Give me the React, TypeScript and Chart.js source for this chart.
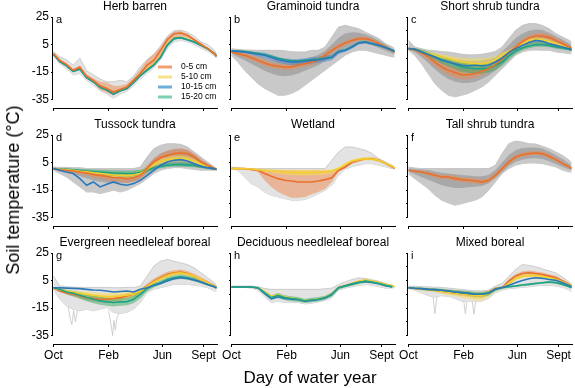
import React, { useEffect, useRef } from 'react';
import { Chart, registerables } from 'chart.js';

Chart.register(...registerables);

const FONT = "'Liberation Sans', Arial, Helvetica, sans-serif";

// ---------- shared axes ----------
const DAYS = [1, 15, 30, 45, 60, 75, 90, 105, 120, 135, 150, 165, 180, 195, 210, 225, 240, 255, 270, 285, 300, 315, 330, 345, 360, 365];
const TICK_DAYS = [1, 124, 244, 336];
const TICK_LABELS = ['Oct', 'Feb', 'Jun', 'Sept'];
const Y_TICKS = [25, 15, 5, -5, -15, -25, -35];
const DEPTHS = ['0-5 cm', '5-10 cm', '10-15 cm', '15-20 cm'];

// ---------- a: Herb barren ----------
const A_OR = [-1.6, -6.5, -9.4, -13.7, -11.5, -18, -21, -25, -27, -29.5, -27.7, -25.8, -21, -16, -10, -6.5, 0.8, 8.5, 12.9, 13.4, 11.7, 8.5, 5.2, 2, -1.6, -3.5];
const A_OR_LO = [-2.5, -7.5, -10.5, -15, -13, -19.5, -23, -28, -30, -32, -29.5, -27.5, -23, -18.5, -13, -9.5, -3.5, 4.5, 10, 11, 10, 7.5, 4.5, 1.2, -2.5, -4.2];
const A_OR_HI = [-1, -5.5, -8.5, -12.5, -10, -16.5, -19.5, -22, -22.5, -25, -25, -23.5, -19, -13, -6, -2, 3, 10.5, 14.5, 14.8, 12.8, 9.3, 6, 2.8, -0.8, -2.8];
const A_YE = [-1.8, -7, -10, -14.2, -12.5, -18.8, -21.8, -25.8, -27.8, -30.5, -28.5, -26.5, -22, -17, -12.5, -9, -3.5, 5.5, 9.8, 10.5, 9, 7, 4.6, 2, -1.6, -3.5];
const A_BL = [-2, -7.3, -10.3, -14.4, -12.8, -19, -22, -26, -28, -31, -28.6, -27, -22.5, -17.5, -13.5, -9.8, -4.3, 4.6, 9.3, 10, 8.5, 6.8, 4.4, 2, -1.6, -3.5];
const A_GR = [-2, -7.5, -10.5, -14.5, -13, -19, -22, -26, -28, -31, -28.5, -27, -22.5, -17.5, -13.7, -10, -4.5, 4.4, 9.3, 10, 8.5, 6.8, 4.4, 2, -1.6, -3.5];
const A_GRAY_HI = [0, -4, -6, -10, -5, -14, -17, -20, -22, -22, -21, -22, -18, -11, -6, -2, 4, 11, 15, 15.5, 14, 11, 7, 5, 1, -2];
const A_GRAY_LO = [-3, -9, -12.5, -17, -16, -21, -24.5, -28.5, -31, -34, -31, -29, -25, -20, -16, -12, -6, 2, 7, 8, 7, 5, 2.5, 0, -3, -5];

// ---------- b: Graminoid tundra ----------
const B_OR = [-0.4, -1.6, -2.8, -4.5, -6.5, -8.4, -10, -10.8, -11.3, -11.3, -10, -8.9, -7.7, -6, -2.8, 0.8, 3.7, 6.1, 8, 9.3, 9.3, 8, 5.6, 3.2, 0.3, -0.4];
const B_OR_LO = [-1, -2.8, -4.5, -6.5, -8.5, -10.5, -12, -13, -13.5, -13.5, -12.2, -11, -9.8, -8, -5, -1.2, 2, 4.5, 6.5, 8, 8, 6.8, 4.5, 2.2, -0.5, -1];
const B_OR_HI = [0.2, -0.6, -1.4, -2.8, -4.5, -6.3, -8, -8.8, -9.2, -9.3, -8, -7, -5.8, -4, -0.8, 2.6, 5.3, 7.6, 9.5, 10.6, 10.6, 9.2, 6.7, 4.2, 1.1, 0.2];
const B_BL = [0.3, 0, -0.4, -1.1, -2, -2.8, -4.5, -6, -7, -7.7, -7.7, -7.2, -6.5, -6, -5.3, -4.5, -0.4, 0.8, 3.2, 6.1, 6.8, 5.6, 4.4, 2.7, 0.8, 0];
const B_BL_LO = [-0.2, -0.6, -1.2, -2.2, -3.5, -4.8, -6.5, -8, -9.2, -10, -10, -9.5, -8.8, -8.2, -7.5, -6.5, -2, -0.5, 2, 5, 5.7, 4.6, 3.5, 1.9, 0.2, -0.5];
const B_BL_HI = [0.8, 0.6, 0.4, 0, -0.6, -1, -2.5, -4, -5, -5.5, -5.5, -5, -4.3, -3.8, -3, -2.5, 1, 2.2, 4.5, 7.2, 7.8, 6.6, 5.3, 3.5, 1.4, 0.6];
const B_GR = [0.4, 0.2, 0, -0.6, -1.3, -2.2, -3.6, -5, -6, -6.8, -6.9, -6.5, -6, -5.5, -4.8, -4, 0, 1.2, 3.5, 6.3, 6.9, 5.7, 4.5, 2.8, 0.9, 0.2];
const B_GRAY_HI = [2, 1.5, 1, 1, 0.8, 0.8, 0.8, 0.8, 0.5, -0.2, -0.4, -0.4, 0.8, 0.8, 3.2, 10.5, 17.7, 19, 17.7, 16.5, 14, 11.7, 9.3, 5.6, 3.2, 2];
const B_GRAY_LO = [-2.8, -7.7, -13.7, -18.6, -23.4, -27, -29.4, -31.9, -31.9, -30.6, -28.2, -24.6, -21, -17.3, -13.7, -10, -6.5, -2.8, -0.4, 0.8, 0.8, -0.4, -1.6, -2.8, -4, -4];
const B_GRAYIN_HI = [1, 0, -0.5, -1.5, -3, -4.5, -6, -7, -7.5, -7.5, -6.5, -5.5, -4, -2.5, 0.5, 5, 10, 13, 14, 13.5, 12.5, 10.5, 8, 5, 2, 1];
const B_GRAYIN_LO = [-1.5, -4, -6.5, -9, -11.5, -14, -16, -17.5, -18, -17.5, -16, -14, -12, -10, -7, -3, 0, 2.5, 4, 5.5, 5.5, 4.5, 2.5, 0.5, -1.5, -2];

// ---------- c: Short shrub tundra ----------
const C_OR = [2, 1.3, -0.9, -4, -7.7, -11.3, -13.7, -15.4, -16.9, -16.9, -16, -14.4, -12.5, -9.6, -5.2, -0.9, 3.2, 6.9, 9.8, 11.2, 11.2, 10.2, 8, 5.6, 3.2, 2];
const C_OR_LO = [1.3, 0, -2.8, -6.5, -10.6, -14.4, -17.3, -19.3, -20.2, -20.2, -19.3, -17.3, -14.9, -11.3, -7.2, -2.3, 1.5, 4.9, 7.8, 9.3, 9.3, 8.3, 6.4, 3.9, 2, 1.3];
const C_OR_HI = [2.7, 2.5, 0.9, -1.6, -4.7, -7.7, -9.6, -11.3, -12.5, -13, -12.5, -11.3, -9.6, -7.2, -3.3, 0.8, 4.9, 8.8, 11.7, 13.4, 13.4, 12.2, 9.8, 7.4, 4.4, 3];
const C_YE = [2, 1.2, 0, -1.4, -2.8, -4, -5.2, -6.5, -7.7, -8.3, -8.9, -8.9, -8.2, -6.5, -2.8, -0.4, 2.5, 5.6, 8, 8.8, 8.5, 7.4, 5.6, 3.9, 2.5, 2];
const C_YE_LO = [1.5, 0.5, -1, -2.8, -4.5, -6, -7.5, -9, -10.5, -11.5, -12, -12, -11.5, -9.5, -5.5, -2, 1, 4, 6.5, 7.5, 7.2, 6.2, 4.6, 3, 1.8, 1.3];
const C_YE_HI = [2.5, 2, 1, 0, -1.2, -2, -3, -4, -4.8, -5, -5.2, -5, -4.5, -3.5, -0.5, 1.2, 4, 7.2, 9.5, 10.2, 9.8, 8.6, 6.6, 4.8, 3.2, 2.6];
const C_BL = [2, 1.5, -0.4, -2.3, -4, -6.5, -7.7, -8.9, -10, -10.6, -10, -10.6, -10, -7.7, -4.7, -0.9, 2, 4.4, 6.4, 8, 7.4, 5.6, 4.4, 3.2, 2, 1.3];
const C_GR = [2, 1.5, 0, -2, -4, -6, -7.7, -9.5, -11.3, -12, -12.5, -12.5, -12, -10, -7.7, -3.3, 0.1, 2.5, 3.9, 4.9, 4.9, 4.4, 3.2, 2.5, 1.5, 0.8];
const C_GR_LO = [1.5, 0.5, -1.5, -4, -6.5, -9, -11, -13, -15, -15.5, -16, -16, -15.5, -13.5, -10.5, -6, -2, 0.8, 2.3, 3.3, 3.3, 3, 2, 1.4, 0.6, 0];
const C_GR_HI = [2.5, 2.5, 1.5, 0, -2, -3.5, -4.8, -6.5, -7.8, -8.5, -9, -9, -8.5, -6.5, -4.5, -0.8, 2.3, 4.3, 5.8, 6.8, 6.8, 6, 4.6, 3.6, 2.4, 1.6];
const C_GRAY_HI = [8, 3.2, 2, 0.9, 0.5, 0, -0.5, -1.2, -2, -2.5, -2.5, -2, -1.2, 0, 3.2, 9.3, 15.3, 18.9, 20.2, 20.2, 18.9, 16.5, 12.9, 10.5, 8, 6.9];
const C_GRAY_LO = [0.8, -2.8, -8.9, -16.2, -23.4, -28.2, -31.9, -33, -31.9, -30.5, -28.2, -25.8, -22.2, -17.3, -12.5, -7.7, -2.8, -0.4, 0.8, 1, 0.8, 0.8, -0.4, -1, -1.6, -1.6];
const C_GRAYIN_HI = [3, 2, 0.5, -1, -2.5, -4, -5, -6, -6.5, -7, -7, -6.5, -5.5, -4, 0, 4.5, 9.5, 13, 15, 16, 15.5, 13.5, 11, 8.5, 5.5, 4];
const C_GRAYIN_LO = [1.3, -0.5, -4, -8.5, -13, -17, -20, -22, -23, -23, -22, -20, -17.5, -14, -9.5, -4.5, 0, 3, 5, 6, 6, 5, 3.5, 2, 1, 0.5];

// ---------- d: Tussock tundra ----------
const D_OR = [0.6, -0.2, -0.6, -1.1, -1.9, -2.6, -3.6, -4.3, -5, -6, -6, -6.7, -6, -4.3, 0.6, 5.4, 8.5, 10.2, 11.5, 11.9, 11.5, 9, 5.4, 3, 0.6, 0];
const D_OR_LO = [0, -1, -1.5, -2.5, -3.5, -4.5, -5.8, -6.8, -7.8, -8.8, -9, -9.5, -8.8, -7, -2, 2.5, 5.5, 7, 8.5, 9, 8.5, 6.5, 3.5, 1.5, -0.2, -0.5];
const D_OR_HI = [1, 0.5, 0.2, 0, -0.5, -1, -1.5, -2, -2.5, -3, -3, -3.5, -3, -1.5, 3, 8, 11.5, 13.5, 15, 15.3, 14.5, 11.5, 7.5, 4.5, 1.5, 0.8];
const D_YE = [0.6, 0, -0.3, -0.7, -1.3, -1.8, -2.5, -3, -3.5, -4, -4.2, -4.5, -4, -3, 0, 3.5, 5.8, 7, 7.8, 8, 7.5, 6, 4, 2.2, 0.6, 0];
const D_YE_LO = [0.2, -0.6, -1, -1.6, -2.4, -3, -3.8, -4.5, -5.2, -6, -6.2, -6.5, -6, -5, -1.5, 1.8, 3.8, 4.8, 5.6, 6, 5.6, 4.6, 3, 1.4, 0, -0.4];
const D_YE_HI = [1, 0.5, 0.3, 0.1, -0.3, -0.6, -1.2, -1.5, -1.8, -2, -2.2, -2.5, -2, -1, 1.5, 5, 7.8, 9, 10, 10.2, 9.6, 7.6, 5.2, 3, 1.2, 0.6];
const D_GR = [0.6, 0.2, 0, -0.3, -0.7, -1.1, -1.5, -1.9, -2.3, -2.6, -2.8, -3, -2.8, -2.2, -0.5, 1, 2.2, 3, 3.4, 3.5, 3.3, 2.8, 2, 1.2, 0.4, 0];
const D_GR_LO = [0.2, -0.4, -0.8, -1.3, -2, -2.6, -3.2, -3.8, -4.3, -4.8, -5, -5.3, -5, -4.2, -2, -0.3, 0.8, 1.5, 2, 2, 1.8, 1.5, 1, 0.5, -0.2, -0.5];
const D_GR_HI = [1, 0.8, 0.6, 0.4, 0.3, 0.2, 0, -0.2, -0.4, -0.6, -0.7, -0.8, -0.6, -0.2, 1, 2.5, 3.8, 4.6, 5, 5.2, 5, 4.2, 3.2, 2, 1, 0.6];
const D_BL = [0.6, -0.6, -1.9, -3, -6.7, -11.5, -9.1, -12.7, -10.8, -9.1, -10.8, -11.5, -10.3, -7.9, -4.3, -0.6, 3, 5.4, 6.6, 7.1, 6.1, 4.2, 2.3, 1.3, 0.6, 0];
const D_GRAY_HI = [1.8, 1.5, 1.5, 1.3, 1.3, 0.6, 0.6, 0.6, 0.6, 0.6, 0.6, 0.6, 0.6, 1.8, 9, 15.1, 17.5, 18.7, 18.7, 18.2, 16.3, 12.7, 9, 5.4, 1.8, 0.6];
const D_GRAY_LO = [-0.6, -3, -5.5, -9.1, -12.7, -16.4, -16.4, -17.6, -16.4, -15.2, -16.4, -15.2, -12.7, -10.3, -6.7, -3, -0.6, 0.6, 1.3, 1.3, 0.6, -0.1, -0.6, -0.6, -0.6, -0.6];
const D_GRAYIN_HI = [1, 0.5, 0, -0.5, -1, -1.5, -2, -2.5, -3, -3.5, -3.5, -4, -3.5, -2, 2.5, 8, 11.5, 13.5, 14.5, 14.8, 14, 11, 7, 4, 1.2, 0.5];
const D_GRAYIN_LO = [0, -1.5, -2.5, -3.5, -5, -6.5, -8, -9, -9.5, -10, -10, -10, -9, -7, -3, 0.5, 2, 3, 3.5, 3.5, 3, 2, 1, 0, -0.5, -0.5];

// ---------- e: Wetland ----------
const E_OR = [0.6, 0.6, 0.6, 0, -0.6, -3, -5, -6.7, -7.9, -8.4, -9.1, -9.1, -9.1, -8.4, -7.4, -6, -0.6, 1.8, 5.4, 6.6, 7.8, 7.8, 6.6, 4.2, 1.8, 0.6];
const E_OR_LO = [0.3, 0.2, 0, -0.6, -1.9, -7.9, -12.7, -16.4, -18.8, -20.5, -20.5, -20, -18, -16.4, -14, -9.1, -1.9, 0.8, 4, 5.5, 6.8, 6.8, 5.6, 3.4, 1.2, 0.2];
const E_OR_HI = [0.8, 0.8, 0.8, 0.5, 0, -0.3, -0.3, -0.5, -0.5, -0.6, -0.6, -0.6, -0.6, -0.6, -0.6, -0.6, 0.6, 2.8, 6.5, 7.8, 8.8, 8.8, 7.6, 5, 2.4, 1];
const E_YE = [0.6, 0.6, 0.6, 0.3, -0.2, -0.6, -1.1, -1.5, -1.9, -2.1, -2.3, -2.3, -2.3, -2.1, -1.9, -1.1, 0.6, 3.7, 6.1, 7.1, 7.8, 7.6, 6.6, 4.2, 2.3, 1.3];
const E_YE_LO = [0.3, 0.3, 0.2, -0.2, -0.8, -1.6, -2.5, -3.2, -3.8, -4.2, -4.5, -4.5, -4.5, -4.2, -3.8, -3, -0.5, 2.5, 5, 6, 6.6, 6.4, 5.5, 3.3, 1.5, 0.6];
const E_YE_HI = [0.8, 0.8, 0.8, 0.6, 0.4, 0.2, 0, 0, -0.2, -0.2, -0.3, -0.3, -0.3, -0.2, -0.2, 0, 1.8, 5, 7.2, 8.4, 9, 8.8, 7.6, 5.2, 3, 2];
const E_GRAY_HI = [1.8, 1.3, 0.6, 0.6, 0.6, 0.6, 0.6, 0.6, 0.6, 0.6, 0.6, 0.6, 0.6, 0.6, 0.6, 6.6, 12.7, 16.3, 16.3, 15.1, 13.9, 11.5, 7.8, 5.4, 3, 1.8];
const E_GRAY_LO = [0.6, -0.6, -5.5, -10.3, -12.7, -16.4, -18.8, -20, -21.2, -22.4, -22.4, -21.9, -20, -17.6, -15.2, -11.5, -4.3, 0.1, 2, 3, 4.2, 4.2, 3, 1.8, 0.6, 0.6];

// ---------- f: Tall shrub tundra ----------
const F_OR = [-0.6, -1.3, -1.9, -3, -4.3, -5.5, -5.5, -6.7, -7.4, -7.9, -8.4, -9.1, -7.9, -4.3, 0.6, 5.4, 9, 10.7, 11.5, 11.9, 11.5, 9.5, 7.1, 4.2, 1.8, 0.6];
const F_OR_LO = [-1.2, -2.2, -3, -4.3, -5.8, -7, -7.2, -8.4, -9.2, -9.8, -10.3, -10.8, -9.6, -6, -1, 3.8, 7.5, 9.2, 10, 10.4, 10, 8, 5.7, 3, 0.8, -0.2];
const F_OR_HI = [0, -0.5, -1, -1.8, -3, -4, -4, -5, -5.6, -6, -6.5, -7.2, -6.2, -2.6, 2.2, 7, 10.5, 12.2, 13, 13.4, 13, 11, 8.5, 5.4, 2.8, 1.4];
const F_GRAY_HI = [1.8, 1.1, 0.6, 0.6, 0.6, 0.6, 0.6, 0.6, 0.6, 0.6, 0.6, 0.6, 0.6, 3, 11.5, 18.7, 20.6, 19.9, 18.7, 18.5, 16.8, 15.1, 12.7, 10.2, 6.6, 4.2];
const F_GRAY_LO = [-3, -6.7, -10.3, -14, -18.8, -22.4, -24.4, -26, -25, -23.6, -22.4, -20, -15.2, -9.1, -3, 0.6, 3, 4.2, 4.6, 4.6, 4.2, 3, 1.8, -0.6, -1.9, -1.9];
const F_GRAYIN_HI = [0.8, 0.3, 0, -0.5, -1.5, -2.5, -3, -3.5, -4, -4.5, -5, -5, -4, -0.5, 5, 10.5, 14, 15.5, 16, 16, 15.2, 13, 10.5, 7.5, 4, 2.5];
const F_GRAYIN_LO = [-1.5, -3.5, -5.5, -7.5, -9.5, -11.5, -12.5, -13.5, -13.5, -13, -12.5, -12, -10, -6.5, -2, 2.5, 5.5, 7, 8, 8.2, 7.6, 6, 4, 1.8, 0, -0.6];

// ---------- g: Evergreen needleleaf boreal ----------
const G_OR = [-0.2, -2.6, -3.8, -5, -6.2, -7.4, -8.1, -8.6, -8.6, -8.1, -7.4, -6.2, -5, -2.6, 1, 4.6, 7, 9.4, 10.6, 11.1, 10.1, 8.2, 5.8, 3.4, 1, -0.2];
const G_OR_LO = [-1, -3.6, -5.2, -6.6, -8, -9.4, -10.2, -10.8, -10.8, -10.3, -9.5, -8.2, -6.8, -4.2, -0.6, 2.8, 5.2, 7.6, 8.8, 9.3, 8.4, 6.6, 4.4, 2.2, 0, -1];
const G_OR_HI = [0.4, -1.6, -2.5, -3.5, -4.5, -5.5, -6, -6.4, -6.4, -6, -5.4, -4.3, -3.2, -1, 2.7, 6.5, 9, 11.4, 12.5, 13, 12, 10, 7.4, 4.8, 2.2, 0.6];
const G_YE = [-0.2, -1.5, -2.6, -3.5, -4.3, -5, -5.7, -6.2, -6.7, -6.5, -6.2, -5.5, -5, -2.6, 0.5, 3.9, 6.3, 8.7, 10.1, 10.6, 9.8, 8.2, 5.8, 3.4, 1, -0.2];
const G_YE_LO = [-0.8, -2.5, -3.8, -5, -6, -7, -8, -8.8, -9.5, -9.6, -9.3, -8.4, -7.4, -4.5, -1, 2.5, 4.8, 7.2, 8.6, 9.2, 8.5, 7, 4.8, 2.5, 0.3, -0.8];
const G_YE_HI = [0.4, -0.6, -1.5, -2.2, -2.8, -3.2, -3.6, -3.8, -4, -3.8, -3.6, -3, -2.6, -0.8, 2, 5.3, 7.8, 10.2, 11.6, 12, 11.2, 9.4, 6.8, 4.2, 1.6, 0.4];
const G_BL = [-0.2, -0.2, -0.5, -0.7, -0.9, -1.4, -1.9, -2.1, -2.6, -3.3, -3, -2.6, -3.3, -1.4, -0.2, 1.5, 2.9, 4.6, 6.3, 7, 6.5, 5.3, 3.9, 2.2, 0.5, -0.2];
const G_GR = [-0.2, -1.4, -3.3, -4.3, -5.7, -7.4, -8.6, -9.8, -10.5, -11, -10.5, -10.3, -8.6, -5, -0.9, 1.5, 3.4, 5.8, 7, 7.7, 7, 5.8, 3.9, 2.2, 0.5, -0.5];
const G_GR_LO = [-1, -2.8, -5, -6.5, -8.2, -10, -11.5, -12.6, -13.4, -13.8, -13.4, -13, -11.5, -8, -3, 0, 2, 4.3, 5.5, 6.2, 5.6, 4.5, 2.8, 1.2, -0.3, -1.2];
const G_GR_HI = [0.5, -0.3, -1.8, -2.6, -3.5, -4.8, -5.8, -6.8, -7.5, -8, -7.6, -7.4, -5.8, -2.4, 1.2, 3.2, 5, 7.4, 8.6, 9.3, 8.5, 7.2, 5.1, 3.2, 1.4, 0.3];
const G_GRAY_HI = [8.2, 1, 0.5, 0.2, 0, 0, 0, 0, 0, -0.2, -0.2, 0, 0, 1, 8.2, 15.4, 19, 20.2, 19, 17.8, 16.6, 14.2, 10.6, 7, 3.4, 1];
const G_GRAY_LO = [-1.4, -8.6, -13.4, -16, -17, -15.8, -17, -15.8, -14.6, -18.2, -19, -18, -15.8, -11, -3.8, -1.4, -0.2, 1, 2.2, 2.2, 2.2, 1.5, 1, -0.2, -2.6, -2.6];
// thin cold spikes drawn as separate gray traces (own day stamps)
const G_SPIKE_DAYS = [33, 38, 42, 46, 50, 55, 60, null, 124, 129, 133, 136, 139, 143, 148];
const G_SPIKE = [-12, -22, -27, -17, -25, -16, -15, null, -17, -26, -35, -24, -31, -22, -18];

// ---------- h: Deciduous needleleaf boreal ----------
const H_GR = [0.3, 0.3, 0.3, 0.3, -0.2, -3.8, -7.4, -5.7, -7.4, -8.1, -8.6, -9.8, -9.1, -8.6, -7.4, -5, -0.2, 1, 2.2, 3.4, 4.6, 3.9, 2.9, 1.5, 0.5, null];
const H_GR_LO = [0, 0, 0, -0.2, -1, -5.2, -9, -7.8, -9.3, -10, -10.5, -11.4, -10.8, -10.2, -9, -6.8, -1.5, 0, 1.2, 2.4, 3.4, 2.8, 1.9, 0.6, -0.3, null];
const H_GR_HI = [0.6, 0.6, 0.6, 0.6, 0.4, -2.4, -5.6, -4, -5.6, -6.4, -6.9, -8.2, -7.5, -7, -6, -3.5, 0.8, 2, 3.2, 4.4, 5.7, 5, 3.9, 2.4, 1.3, null];
const H_BL = [0.3, 0.3, 0.3, 0.3, -0.4, -4.5, -8.3, -6.8, -8, -8.5, -9, -10, -9.4, -8.8, -7.6, -5.2, -0.2, 1.2, 2.6, 3.8, 4.2, 3.6, 2.6, 1.3, 0.4, null];
const H_YE = [0.3, 0.3, 0.3, 0.3, 0, -3, -6.5, -5.2, -6.8, -7.8, -8.4, -9.5, -8.9, -8.4, -7.2, -4.6, 0.2, 1.5, 3, 4.6, 5.6, 4.6, 3.8, 2.2, 1.3, 0.3];
const H_GRAY_HI = [1, 1, 1, 1, 0.5, -0.8, -1.4, -1.4, -1.4, -1.4, -1.4, -1.4, -1.4, -1.4, -1, -0.5, 2, 4, 5.8, 7, 6.5, 5.5, 4.5, 3, 1.5, 0.5];
const H_GRAY_LO = [0, 0, 0, -0.5, -2, -7, -11, -10, -11, -11, -11, -12, -11.5, -10.5, -9.5, -7.5, -2, -0.5, 0.5, 1.5, 2, 1.5, 0.5, -0.5, -0.5, 0];

// ---------- i: Mixed boreal ----------
const I_GR = [-0.2, -0.6, -0.9, -1.4, -1.6, -2.1, -2.6, -3.3, -3.8, -4.3, -5, -5, -4.3, -1.4, -0.2, 0.5, 1, 1.7, 2.2, 2.9, 3.4, 3.9, 3.4, 2.2, 0.5, -0.2];
const I_GR_LO = [-0.8, -1.3, -1.8, -2.4, -2.8, -3.4, -4, -4.8, -5.4, -6, -6.8, -6.8, -6, -2.8, -1.2, -0.3, 0.3, 1, 1.5, 2.1, 2.6, 3, 2.6, 1.4, -0.2, -0.8];
const I_GR_HI = [0.4, 0.1, -0.1, -0.5, -0.6, -0.9, -1.3, -1.8, -2.2, -2.6, -3.2, -3.2, -2.6, 0, 0.8, 1.3, 1.8, 2.5, 3, 3.7, 4.2, 4.8, 4.3, 3, 1.2, 0.4];
const I_BL = [-0.2, -0.6, -0.9, -1.4, -1.6, -2.1, -2.6, -3.3, -3.8, -4.3, -5, -4.8, -4, -1.2, 0, 1.5, 3.4, 5.1, 6.3, 7, 6.6, 5.8, 5.1, 3.4, 1.5, 0.5];
const I_OR = [-0.2, -0.8, -1.2, -1.4, -2, -2.6, -3.3, -3.8, -4.3, -5, -5.7, -5.7, -3.8, -1, -0.2, 4.6, 8.2, 10.1, 10.6, 10.1, 9.4, 8.2, 7, 4.6, 2.2, 1];
const I_OR_LO = [-0.8, -1.5, -2, -2.4, -3.2, -4, -4.8, -5.5, -6.2, -7, -7.8, -7.6, -5.5, -2.2, -1, 3, 6.5, 8.5, 9, 8.6, 8, 6.8, 5.6, 3.4, 1.2, 0];
const I_OR_HI = [0.4, -0.1, -0.4, -0.5, -0.8, -1.2, -1.8, -2.2, -2.5, -3, -3.6, -3.8, -2.2, 0.2, 0.8, 6.2, 9.8, 11.6, 12.2, 11.6, 10.8, 9.6, 8.4, 5.8, 3.2, 2];
const I_YE = [-0.2, -0.8, -1.2, -1.6, -2.2, -2.8, -3.5, -4, -4.6, -5.3, -6, -6, -4.2, -1, -0.2, 3, 6.3, 8, 8.6, 8.4, 8, 7, 6, 4, 2, 0.8];
const I_YE_LO = [-0.8, -1.5, -2.2, -2.8, -3.6, -4.6, -5.6, -6.4, -7.4, -8.4, -9.5, -9.5, -7, -2.5, -1, 1.8, 5, 6.8, 7.4, 7.2, 6.8, 5.8, 4.8, 3, 1, -0.2];
const I_YE_HI = [0.4, -0.1, -0.4, -0.6, -1, -1.3, -1.8, -2.2, -2.6, -3, -3.5, -3.5, -2.2, 0.2, 0.6, 4.2, 7.6, 9.4, 10, 9.8, 9.4, 8.2, 7.2, 5, 3, 1.8];
const I_GRAY_HI = [1, 0.8, 0.6, 0.4, 0.2, 0, -0.5, -1, -1.5, -2, -2.5, -2.5, -2, 1, 3, 8, 13, 16.6, 16, 15, 13.5, 12, 10.5, 7.5, 4, 2];
const I_GRAY_LO = [-1, -2, -4, -6, -7, -6, -6.5, -8, -10, -10, -10, -10, -8, -4, -2, -1, -0.5, 0, 0.5, 1, 1.5, 1.5, 1, 0, -2, -3];
const I_SPIKE_DAYS = [55, 60, 65, null, 123, 128, 133, null, 142, 147, 152];
const I_SPIKE = [-4, -19, -5, null, -6, -19, -7, null, -7, -19.4, -8];

// ---------- styles ----------
const ORANGE = '#E8702A';
const YELLOW = '#F2CF2E';
const BLUE = '#2A78B8';
const GREEN = '#1FA386';
const ORANGE_FILL = 'rgba(238,135,80,0.5)';
const YELLOW_FILL = 'rgba(250,222,80,0.5)';
const GREEN_FILL = 'rgba(60,170,100,0.5)';
const BLUE_FILL = 'rgba(60,130,200,0.45)';
const LEGEND_SWATCH = ['#F0A070', '#F5E38A', '#6FAEDB', '#7DD0B0'];
const SPIKE_GRAY = '#c4c4c4';

type Arr = (number | null)[];
type Band = { lo: Arr; hi: Arr; fill: string; border?: string; bw?: number };
type Line = { data: Arr; color: string; width?: number; days?: Arr };
type PanelDef = { title: string; letter: string; row: number; col: number; back?: Line[]; bands: Band[]; lines: Line[]; legend?: boolean };

const grayDense = (lo: Arr, hi: Arr, ilo: Arr, ihi: Arr): Band[] => [
  { lo, hi, fill: '#c9c9c9', border: '#bdbdbd', bw: 0.8 },
  { lo: ilo, hi: ihi, fill: '#a8a8a8' },
];
const grayLight = (lo: Arr, hi: Arr): Band[] => [{ lo, hi, fill: '#e3e3e3', border: '#c2c2c2', bw: 0.8 }];

const PANELS: PanelDef[] = [
  {
    title: 'Herb barren', letter: 'a', row: 0, col: 0, legend: true,
    bands: [...grayLight(A_GRAY_LO, A_GRAY_HI), { lo: A_OR_LO, hi: A_OR_HI, fill: ORANGE_FILL }],
    lines: [{ data: A_YE, color: YELLOW }, { data: A_BL, color: BLUE }, { data: A_GR, color: GREEN }, { data: A_OR, color: ORANGE }],
  },
  {
    title: 'Graminoid tundra', letter: 'b', row: 0, col: 1,
    bands: [...grayDense(B_GRAY_LO, B_GRAY_HI, B_GRAYIN_LO, B_GRAYIN_HI), { lo: B_OR_LO, hi: B_OR_HI, fill: ORANGE_FILL }, { lo: B_BL_LO, hi: B_BL_HI, fill: BLUE_FILL }],
    lines: [{ data: B_OR, color: ORANGE }, { data: B_GR, color: GREEN }, { data: B_BL, color: BLUE }],
  },
  {
    title: 'Short shrub tundra', letter: 'c', row: 0, col: 2,
    bands: [...grayDense(C_GRAY_LO, C_GRAY_HI, C_GRAYIN_LO, C_GRAYIN_HI), { lo: C_OR_LO, hi: C_OR_HI, fill: ORANGE_FILL }, { lo: C_YE_LO, hi: C_YE_HI, fill: YELLOW_FILL }, { lo: C_GR_LO, hi: C_GR_HI, fill: GREEN_FILL }],
    lines: [{ data: C_YE, color: YELLOW }, { data: C_GR, color: GREEN }, { data: C_OR, color: ORANGE }, { data: C_BL, color: BLUE }],
  },
  {
    title: 'Tussock tundra', letter: 'd', row: 1, col: 0,
    bands: [...grayDense(D_GRAY_LO, D_GRAY_HI, D_GRAYIN_LO, D_GRAYIN_HI), { lo: D_OR_LO, hi: D_OR_HI, fill: ORANGE_FILL }, { lo: D_YE_LO, hi: D_YE_HI, fill: YELLOW_FILL }, { lo: D_GR_LO, hi: D_GR_HI, fill: GREEN_FILL }],
    lines: [{ data: D_GR, color: GREEN }, { data: D_YE, color: YELLOW }, { data: D_OR, color: ORANGE }, { data: D_BL, color: BLUE }],
  },
  {
    title: 'Wetland', letter: 'e', row: 1, col: 1,
    bands: [...grayLight(E_GRAY_LO, E_GRAY_HI), { lo: E_OR_LO, hi: E_OR_HI, fill: ORANGE_FILL }, { lo: E_YE_LO, hi: E_YE_HI, fill: YELLOW_FILL }],
    lines: [{ data: E_OR, color: ORANGE }, { data: E_YE, color: YELLOW }],
  },
  {
    title: 'Tall shrub tundra', letter: 'f', row: 1, col: 2,
    bands: [...grayDense(F_GRAY_LO, F_GRAY_HI, F_GRAYIN_LO, F_GRAYIN_HI), { lo: F_OR_LO, hi: F_OR_HI, fill: ORANGE_FILL }],
    lines: [{ data: F_OR, color: ORANGE }],
  },
  {
    title: 'Evergreen needleleaf boreal', letter: 'g', row: 2, col: 0,
    back: [{ data: G_SPIKE, days: G_SPIKE_DAYS, color: SPIKE_GRAY, width: 0.8 }],
    bands: [...grayLight(G_GRAY_LO, G_GRAY_HI), { lo: G_OR_LO, hi: G_OR_HI, fill: ORANGE_FILL }, { lo: G_YE_LO, hi: G_YE_HI, fill: YELLOW_FILL }, { lo: G_GR_LO, hi: G_GR_HI, fill: GREEN_FILL }],
    lines: [{ data: G_OR, color: ORANGE }, { data: G_YE, color: YELLOW }, { data: G_GR, color: GREEN }, { data: G_BL, color: BLUE }],
  },
  {
    title: 'Deciduous needleleaf boreal', letter: 'h', row: 2, col: 1,
    bands: [...grayLight(H_GRAY_LO, H_GRAY_HI), { lo: H_GR_LO, hi: H_GR_HI, fill: GREEN_FILL }],
    lines: [{ data: H_YE, color: YELLOW }, { data: H_BL, color: BLUE }, { data: H_GR, color: GREEN }],
  },
  {
    title: 'Mixed boreal', letter: 'i', row: 2, col: 2,
    back: [{ data: I_SPIKE, days: I_SPIKE_DAYS, color: SPIKE_GRAY, width: 0.8 }],
    bands: [...grayLight(I_GRAY_LO, I_GRAY_HI), { lo: I_OR_LO, hi: I_OR_HI, fill: ORANGE_FILL }, { lo: I_YE_LO, hi: I_YE_HI, fill: YELLOW_FILL }, { lo: I_GR_LO, hi: I_GR_HI, fill: GREEN_FILL }],
    lines: [{ data: I_OR, color: ORANGE }, { data: I_YE, color: YELLOW }, { data: I_GR, color: GREEN }, { data: I_BL, color: BLUE }],
  },
];

// ---------- layout ----------
const COL_LEFT = [-1, 177, 354];
const ROW_TOP = [-3, 115, 233];
const Y_AXIS_W = 54;
const PLOT_W = 164;
const PAD_R = 6;
const TITLE_H = 20;
const PLOT_H = 91;
const CANVAS_W = Y_AXIS_W + PLOT_W + PAD_R;
const X_AXIS_H = (row: number) => (row === 2 ? 22 : 4);

const pts = (arr: Arr, days: Arr = DAYS) => arr.map((v, i) => ({ x: days[i] ?? null, y: v }));

function buildDatasets(p: PanelDef) {
  const ds: any[] = [];
  const addLine = (l: Line) => ds.push({ data: pts(l.data, l.days), borderColor: l.color, borderWidth: l.width || 1.6, fill: false });
  (p.back || []).forEach(addLine);
  p.bands.forEach((b) => {
    ds.push({ data: pts(b.lo), borderColor: b.border || 'rgba(0,0,0,0)', borderWidth: b.bw || 0, fill: false });
    ds.push({ data: pts(b.hi), borderColor: b.border || 'rgba(0,0,0,0)', borderWidth: b.bw || 0, fill: '-1', backgroundColor: b.fill });
  });
  p.lines.forEach(addLine);
  const n = ds.length;
  ds.forEach((d, i) => {
    d.order = n - i;
    d.pointRadius = 0;
    d.tension = 0;
  });
  return ds;
}

const decoPlugin = (p: PanelDef) => ({
  id: 'deco',
  afterDraw(chart: any) {
    const { ctx, chartArea, scales } = chart;
    const y = scales.y;
    ctx.save();
    const x0 = Math.round(chartArea.left) - 0.5;
    ctx.strokeStyle = '#000';
    ctx.lineWidth = 1;
    ctx.beginPath();
    ctx.moveTo(x0, y.getPixelForValue(25));
    ctx.lineTo(x0, y.getPixelForValue(-35));
    ctx.stroke();
    ctx.fillStyle = '#000';
    ctx.font = `11px ${FONT}`;
    ctx.textAlign = 'left';
    ctx.textBaseline = 'alphabetic';
    ctx.fillText(p.letter, chartArea.left + 3, chartArea.top + 5.5);
    if (p.legend) {
      ctx.font = `8.5px ${FONT}`;
      ctx.textBaseline = 'middle';
      DEPTHS.forEach((d, i) => {
        const yy = chartArea.top + 50 + i * 10;
        ctx.strokeStyle = LEGEND_SWATCH[i];
        ctx.lineWidth = 3;
        ctx.beginPath();
        ctx.moveTo(chartArea.left + 105, yy);
        ctx.lineTo(chartArea.left + 119, yy);
        ctx.stroke();
        ctx.fillStyle = '#000';
        ctx.fillText(d, chartArea.left + 128, yy);
      });
    }
    ctx.restore();
  },
});

function Panel({ p }: { p: PanelDef }) {
  const ref = useRef<HTMLCanvasElement>(null);
  const h = TITLE_H + PLOT_H + X_AXIS_H(p.row);
  useEffect(() => {
    if (!ref.current) return;
    const showX = p.row === 2;
    const showY = p.col === 0;
    const chart = new Chart(ref.current, {
      type: 'line',
      data: { datasets: buildDatasets(p) },
      plugins: [decoPlugin(p)],
      options: {
        animation: false,
        responsive: false,
        maintainAspectRatio: false,
        devicePixelRatio: 1,
        spanGaps: false,
        layout: { padding: { top: 0, right: PAD_R, bottom: 0, left: 0 } },
        plugins: {
          legend: { display: false },
          tooltip: { enabled: false },
          title: {
            display: true,
            text: p.title,
            fullSize: false,
            color: '#000',
            font: { family: FONT, size: 12, weight: 'normal', lineHeight: '14px' },
            padding: { top: 3, bottom: 3 },
          },
        },
        scales: {
          x: {
            type: 'linear',
            min: 0,
            max: 366,
            afterBuildTicks: (s: any) => {
              s.ticks = TICK_DAYS.map((v) => ({ value: v }));
            },
            afterFit: (s: any) => {
              s.height = X_AXIS_H(p.row);
              s.paddingLeft = 0;
              s.paddingRight = 0;
            },
            ticks: {
              display: showX,
              autoSkip: false,
              maxRotation: 0,
              padding: 1,
              color: '#000',
              font: { family: FONT, size: 12 },
              callback: (v: any) => TICK_LABELS[TICK_DAYS.indexOf(Number(v))] ?? '',
            },
            grid: { display: true, drawOnChartArea: false, drawTicks: true, tickLength: 3, color: '#000', lineWidth: 1 },
            border: { display: true, color: '#000', width: 1 },
          },
          y: {
            type: 'linear',
            min: -41.1,
            max: 25,
            afterBuildTicks: (s: any) => {
              s.ticks = Y_TICKS.map((v) => ({ value: v }));
            },
            afterFit: (s: any) => {
              s.width = Y_AXIS_W;
              s.paddingTop = 0;
              s.paddingBottom = 0;
            },
            ticks: {
              display: showY,
              padding: 2,
              color: '#000',
              font: { family: FONT, size: 12 },
              callback: (v: any) => String(v),
            },
            grid: { display: true, drawOnChartArea: false, drawTicks: true, tickLength: 2, color: '#000', lineWidth: 1 },
            border: { display: false },
          },
        },
      } as any,
    });
    return () => chart.destroy();
  }, [p]);
  return (
    <canvas
      ref={ref}
      width={CANVAS_W}
      height={h}
      style={{ position: 'absolute', left: COL_LEFT[p.col], top: ROW_TOP[p.row], width: CANVAS_W, height: h }}
    />
  );
}

export default function App() {
  return (
    <div style={{ position: 'absolute', left: 0, top: 0, width: 575, height: 388, background: '#fff', overflow: 'hidden', fontFamily: FONT }}>
      {PANELS.map((p) => (
        <Panel key={p.letter} p={p} />
      ))}
      <div
        style={{
          position: 'absolute', left: 13, top: 190, transform: 'translate(-50%, -50%) rotate(-90deg)',
          whiteSpace: 'nowrap', fontSize: 18, color: '#000', lineHeight: 1,
        }}
      >
        Soil temperature (°C)
      </div>
      <div
        style={{
          position: 'absolute', left: 310, top: 377, transform: 'translate(-50%, -50%)',
          whiteSpace: 'nowrap', fontSize: 17, color: '#000', lineHeight: 1,
        }}
      >
        Day of water year
      </div>
    </div>
  );
}
